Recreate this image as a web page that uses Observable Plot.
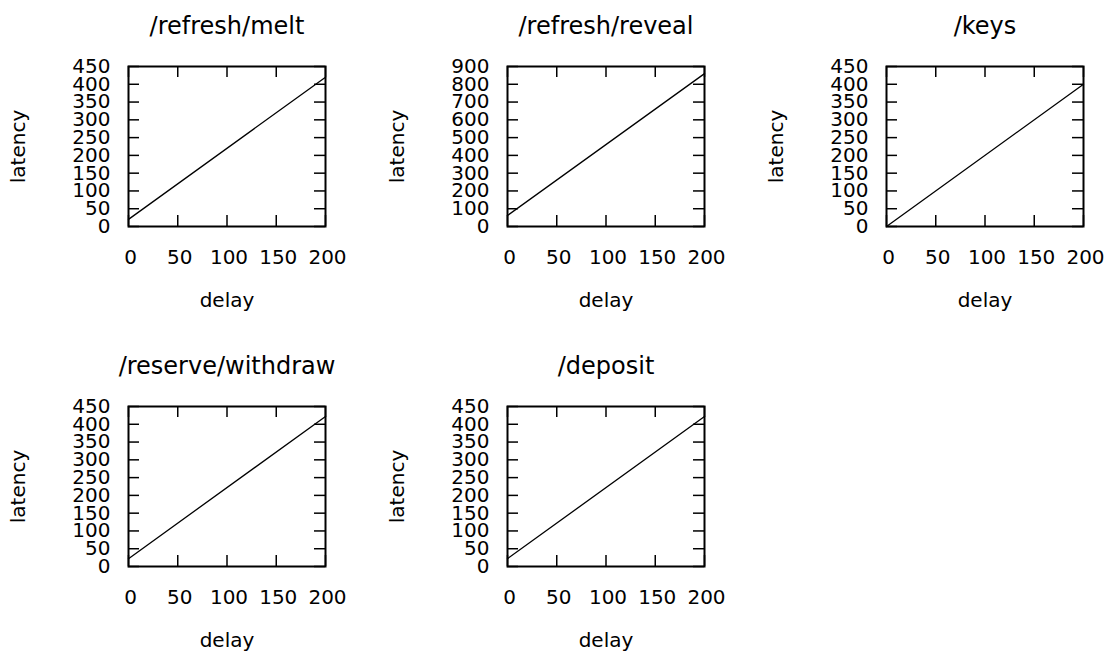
<!DOCTYPE html>
<html>
<head>
<meta charset="utf-8">
<script src="https://cdn.jsdelivr.net/npm/d3@7"></script>
<script src="https://cdn.jsdelivr.net/npm/@observablehq/plot@0.6"></script>
<style>
  html, body { margin: 0; padding: 0; background: #fff; }
  #wrap { position: relative; width: 1111px; height: 652px; overflow: hidden; }
  .panel { position: absolute; width: 370px; height: 330px; }
  .panel svg { max-width: none !important; }
</style>
</head>
<body>
<div id="wrap"></div>
<script>
// ---- data ----
const titles = ["/refresh/melt", "/refresh/reveal", "/keys", "/reserve/withdraw", "/deposit"];
const delays = [0, 200];
const meltLatency = [20, 420];
const revealLatency = [62, 860];
const keysLatency = [0, 400];
const withdrawLatency = [22, 422];
const depositLatency = [22, 422];
const xTicks = [0, 50, 100, 150, 200];
const yTicks450 = [0, 50, 100, 150, 200, 250, 300, 350, 400, 450];
const yTicks900 = [0, 100, 200, 300, 400, 500, 600, 700, 800, 900];
const yMax = [450, 900, 450, 450, 450];
const seriesList = [meltLatency, revealLatency, keysLatency, withdrawLatency, depositLatency];
const tickSets = [yTicks450, yTicks900, yTicks450, yTicks450, yTicks450];

// ---- layout ----
const W = 370, H = 330;
const mL = 128, mT = 66, fw = 197, fh = 160;
const mR = W - mL - fw, mB = H - mT - fh;
const tk = 11;
const font = "DejaVu Sans";

const wrap = document.getElementById("wrap");
titles.forEach((title, i) => {
  const col = i % 3, row = Math.floor(i / 3);
  const data = delays.map((d, j) => ({delay: d, latency: seriesList[i][j]}));
  const yt = tickSets[i];
  const plot = Plot.plot({
    width: W, height: H,
    marginLeft: mL, marginRight: mR, marginTop: mT, marginBottom: mB,
    style: {fontFamily: font, fontSize: "20px", color: "#000", background: "transparent", maxWidth: "none"},
    x: {domain: [0, 200], axis: null},
    y: {domain: [0, yMax[i]], axis: null},
    marks: [
      Plot.line(data, {x: "delay", y: "latency", stroke: "#000", strokeWidth: 1.3}),
      Plot.tickX(xTicks, {x: d => d, insetTop: fh - tk, stroke: "#000", strokeWidth: 1.5}),
      Plot.tickX(xTicks, {x: d => d, insetBottom: fh - tk, stroke: "#000", strokeWidth: 1.5}),
      Plot.tickY(yt, {y: d => d, insetRight: fw - tk, stroke: "#000", strokeWidth: 1.5}),
      Plot.tickY(yt, {y: d => d, insetLeft: fw - tk, stroke: "#000", strokeWidth: 1.5}),
      Plot.frame({stroke: "#000", strokeWidth: 2}),
      Plot.axisY(yt, {anchor: "left", tickSize: 0, tickPadding: 18, fontSize: 20, tickFormat: d => String(d), label: null}),
      Plot.axisX(xTicks, {anchor: "bottom", tickSize: 0, tickPadding: 23, fontSize: 20, dx: 2, tickFormat: d => String(d), label: null}),
      Plot.text(["latency"], {frameAnchor: "left", text: d => d, rotate: -90, dx: -110, textAnchor: "middle", lineAnchor: "middle", fontSize: 20}),
      Plot.text(["delay"], {frameAnchor: "bottom", text: d => d, dy: 74, textAnchor: "middle", lineAnchor: "middle", fontSize: 20}),
      Plot.text([title], {frameAnchor: "top", text: d => d, dy: -40, textAnchor: "middle", lineAnchor: "middle", fontSize: 24})
    ]
  });
  const div = document.createElement("div");
  div.className = "panel";
  div.style.left = (col * 379) + "px";
  div.style.top = (row * 340) + "px";
  div.appendChild(plot);
  wrap.appendChild(div);
});
</script>
</body>
</html>
